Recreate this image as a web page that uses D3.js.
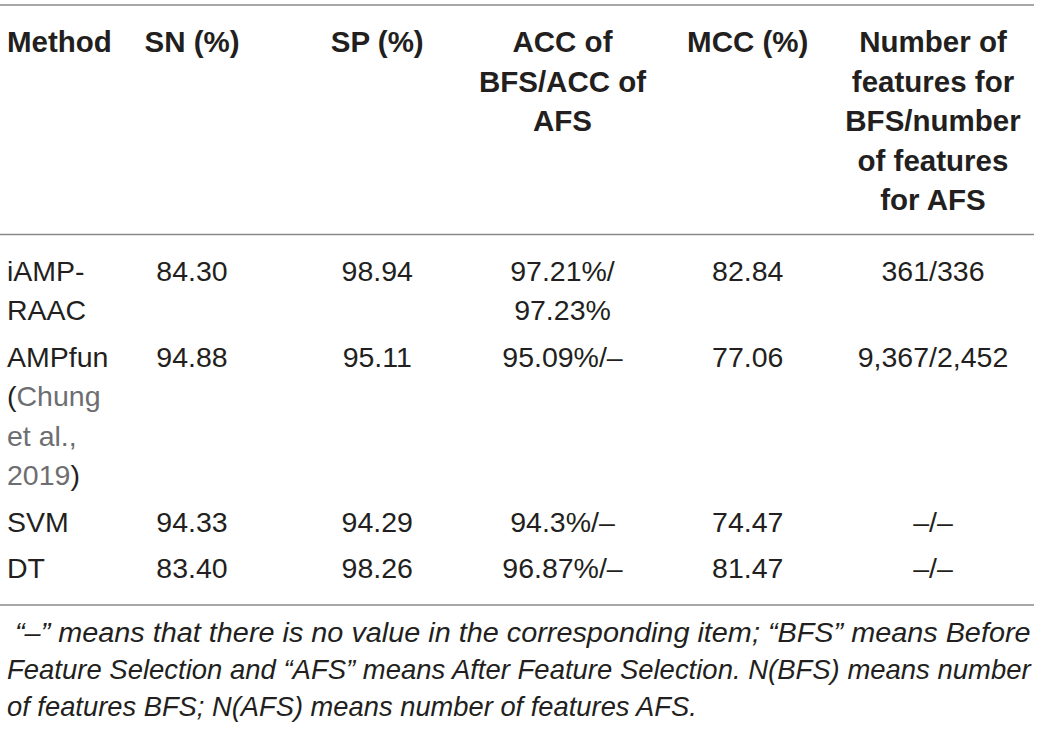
<!DOCTYPE html>
<html>
<head>
<meta charset="utf-8">
<script src="https://cdn.jsdelivr.net/npm/d3@7"></script>
<style>
  html, body { margin: 0; padding: 0; background: #fff; }
  svg { display: block; }
</style>
</head>
<body>
<svg id="chart" width="1041" height="729"></svg>
<script>
// ---- data ----
const columns = ["SN (%)", "SP (%)", "ACC of BFS/ACC of AFS", "MCC (%)", "Number of features"];
const headerLines = [
  ["SN (%)"],
  ["SP (%)"],
  ["ACC of", "BFS/ACC of", "AFS"],
  ["MCC (%)"],
  ["Number of", "features for", "BFS/number", "of features", "for AFS"]
];
// method names, split as wrapped lines; each line is list of [text, isCitation]
const methodLines = [
  [[["iAMP-", false]], [["RAAC", false]]],
  [[["AMPfun", false]], [["(", false], ["Chung", true]], [["et al.,", true]], [["2019", true], [")", false]]],
  [[["SVM", false]]],
  [[["DT", false]]]
];
const sn  = ["84.30", "94.88", "94.33", "83.40"];
const sp  = ["98.94", "95.11", "94.29", "98.26"];
const acc = [["97.21%/", "97.23%"], ["95.09%/–"], ["94.3%/–"], ["96.87%/–"]];
const mcc = ["82.84", "77.06", "74.47", "81.47"];
const nFeatures = ["361/336", "9,367/2,452", "–/–", "–/–"];
const footnoteLines = [
  "\u00a0“–” means that there is no value in the corresponding item; “BFS” means Before",
  "Feature Selection and “AFS” means After Feature Selection. N(BFS) means number",
  "of features BFS; N(AFS) means number of features AFS."
];

// ---- layout ----
const svg = d3.select("#chart");
const textColor = "#231f20";
const citeColor = "#6d6e71";
const ruleColor = "#8a8a8a";
const font = "'Liberation Sans', Arial, Helvetica, sans-serif";

const x = d3.scalePoint().domain(d3.range(columns.length)).range([192, 933]);
const methodX = 7;
const lineH = 39.6;

// rules
const rules = [5, 234.5, 605];
svg.selectAll("line.rule").data(rules).join("line")
  .attr("class", "rule")
  .attr("x1", 0).attr("x2", 1034)
  .attr("y1", d => d).attr("y2", d => d)
  .attr("stroke", ruleColor).attr("stroke-width", 1.4);

// header
const header = svg.append("g")
  .attr("font-family", font).attr("font-weight", "bold")
  .attr("font-size", 29.5).attr("fill", textColor);
const headerY0 = 52;
header.append("text").attr("x", methodX).attr("y", headerY0).text("Method");
headerLines.forEach((lines, ci) => {
  header.append("g").selectAll("text").data(lines).join("text")
    .attr("x", x(ci)).attr("y", (d, i) => headerY0 + i * lineH)
    .attr("text-anchor", "middle").text(d => d);
});

// body rows
const rowLineCounts = methodLines.map((m, i) => Math.max(m.length, acc[i].length));
const rowGap = 46.5;
const rowY = [];
let yb = 280.5;
rowLineCounts.forEach(n => { rowY.push(yb); yb += (n - 1) * lineH + rowGap; });

const body = svg.append("g")
  .attr("font-family", font).attr("font-size", 28.5).attr("fill", textColor);

methodLines.forEach((lines, ri) => {
  lines.forEach((parts, li) => {
    const t = body.append("text").attr("x", methodX).attr("y", rowY[ri] + li * lineH);
    parts.forEach(([s, cite]) => {
      t.append("tspan").attr("fill", cite ? citeColor : textColor).text(s);
    });
  });
});

const simpleCols = [sn, sp, null, mcc, nFeatures];
simpleCols.forEach((col, ci) => {
  if (!col) return;
  body.append("g").selectAll("text").data(col).join("text")
    .attr("x", x(ci)).attr("y", (d, i) => rowY[i])
    .attr("text-anchor", "middle").text(d => d);
});
acc.forEach((lines, ri) => {
  body.append("g").selectAll("text").data(lines).join("text")
    .attr("x", x(2)).attr("y", (d, i) => rowY[ri] + i * lineH)
    .attr("text-anchor", "middle").text(d => d);
});

// footnote (narrowed horizontally to fit the justified width)
const footY = [642, 679, 716];
const footX = 7;
const footW = [1024, 1024, 690];
const foot = svg.append("g")
  .attr("font-family", font).attr("font-style", "italic")
  .attr("font-size", 28).attr("fill", textColor);
footnoteLines.forEach((s, i) => {
  const t = foot.append("text").attr("x", 0).attr("y", 0).text(s);
  const natural = t.node().getComputedTextLength();
  const sx = footW[i] / natural;
  t.attr("transform", `translate(${footX},${footY[i]}) scale(${sx},1)`);
});
</script>
</body>
</html>
